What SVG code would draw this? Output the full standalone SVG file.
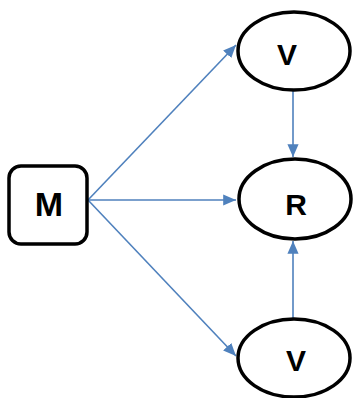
<svg xmlns="http://www.w3.org/2000/svg" width="355" height="398" viewBox="0 0 355 398">
<style>
.node{fill:#fff;stroke:#000;stroke-width:3.5}
.lbl{font-family:"Liberation Sans",Arial,sans-serif;font-weight:bold;font-size:30px;text-anchor:middle;fill:#000}
.big{font-size:34px}
.edge{stroke:#4f81bd;stroke-width:1.6;fill:none;marker-end:url(#ah)}
</style>
<defs>
<marker id="ah" markerWidth="8" markerHeight="7" refX="8" refY="3.5" orient="auto" markerUnits="strokeWidth">
<path d="M0,0 L8,3.5 L0,7 z" fill="#4f81bd"/>
</marker>
</defs>
<rect width="355" height="398" fill="#fff"/>
<g id="connectors">
<line class="edge" x1="88" y1="200" x2="236" y2="45"/>
<line class="edge" x1="88" y1="200" x2="236" y2="200"/>
<line class="edge" x1="88" y1="200" x2="236" y2="356"/>
<line class="edge" x1="293" y1="91" x2="293" y2="157"/>
<line class="edge" x1="293" y1="322" x2="293" y2="241"/>
</g>
<g id="node-M">
<rect class="node" x="9" y="166" width="78" height="78" rx="12"/>
<text class="lbl big" x="49" y="216">M</text>
</g>
<g id="node-V1">
<ellipse class="node" cx="294" cy="51" rx="56" ry="39"/>
<text class="lbl" x="287" y="65">V</text>
</g>
<g id="node-R">
<ellipse class="node" cx="295" cy="199" rx="56" ry="40"/>
<text class="lbl" x="296" y="215">R</text>
</g>
<g id="node-V2">
<ellipse class="node" cx="294" cy="358" rx="56" ry="39"/>
<text class="lbl" x="296" y="371">V</text>
</g>
</svg>
